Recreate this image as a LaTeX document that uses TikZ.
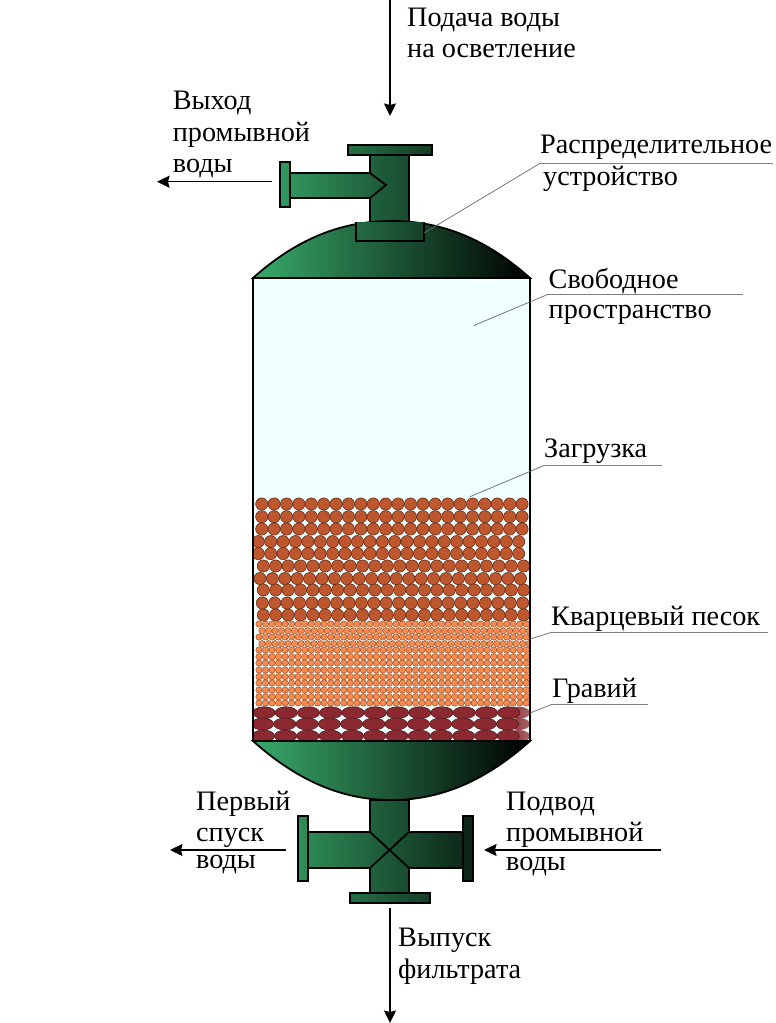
\documentclass[tikz,border=0pt]{standalone}
\usepackage{fontspec}
\setmainfont{Liberation Serif}
\usetikzlibrary{arrows.meta}
\definecolor{gg}{RGB}{56,170,106}
\definecolor{liquid}{RGB}{240,255,255}
\definecolor{rubble}{RGB}{190,86,46}
\definecolor{sandc}{RGB}{250,138,78}
\definecolor{gravelc}{RGB}{140,40,48}
\tikzset{
  part/.style={draw=black,line width=1.8pt,line join=miter},
  lab/.style={anchor=base west,inner sep=0pt,font=\fontsize{28.2}{32}\selectfont,text=black},
  flow/.style={draw=black,line width=1.4pt,-{Stealth[length=12.5pt,width=12pt,inset=1.5pt]}},
  leader/.style={draw=black!60,line width=0.7pt},
  shelf/.style={draw=black!50,line width=0.8pt},
  rub/.style={fill=rubble,draw=black!50!rubble,line width=0.55pt},
  san/.style={fill=sandc,draw=black!40!sandc,line width=0.5pt},
  grv/.style={fill=gravelc,draw=black!45!gravelc,line width=0.5pt}
}
\begin{document}
\begin{tikzpicture}[x=1pt,y=-1pt]
\useasboundingbox (0,0) rectangle (776,1023);
% vessel interior
\fill[liquid] (253,278) rectangle (530,741);
% load particles
\begin{scope}
\clip (253,278) rectangle (530,741);
\foreach \yy/\xo in {504/261.7,516.7/261.7,529/261.7,541.6/258.3,553.6/258.3,566/263.3,578.6/260,590/263.3,603/262.3,615/263.3}{
  \foreach \k in {0,...,21}{
    \pgfmathsetmacro{\xx}{\xo+12.4*\k}
    \pgfmathparse{\xx<524.5?1:0}
    \ifnum\pgfmathresult=1 \draw[rub] (\xx,\yy) circle (6.1pt);\fi
  }
}
\foreach \yy/\xo in {624/259,630.7/262,637/259,643.7/262,650/259,656.7/259,663/259,670/259,676.7/259,683/259,690/259,696.7/259,703/259}{
  \foreach \k in {0,...,41}{
    \pgfmathsetmacro{\xx}{\xo+6.52*\k}
    \draw[san] (\xx,\yy) circle (3.2pt);
  }
}
\foreach \yy/\xo in {712.7/264,724/262.6,736/263.4}{
  \shade[left color=gravelc,right color=gravelc!70!liquid] (519,\yy) ellipse (11pt and 6pt);
  \foreach \k in {0,...,11}{
    \pgfmathsetmacro{\xx}{\xo+22.25*\k}
    \pgfmathparse{\xx<512?1:0}
    \ifnum\pgfmathresult=1 \draw[grv] (\xx,\yy) ellipse (11.2pt and 6pt);\fi
  }
}
\end{scope}
\draw[part,line width=2.2pt] (253,278) rectangle (530,741);
% top fittings
\path[part,left color=gg!58!black,right color=gg!44!black] (370,155) rectangle (409,225);
\path[part,left color=gg!66!black,right color=gg!35!black] (348,145) rectangle (432,155);
\path[part,left color=gg!87!black,right color=gg!52!black] (290,173) -- (370,173) -- (386,185) -- (370,198) -- (290,198) -- cycle;
\path[part,left color=gg!90!black,right color=gg!87!black] (280,162) rectangle (290,207);
% domes
\path[part,left color=gg,right color=black] (253,278) .. controls (300,236) and (345,221) .. (391.5,221) .. controls (438,221) and (483,236) .. (530,278) -- cycle;
\path[part,left color=gg,right color=black] (253,741) .. controls (300,783) and (345,800) .. (391.5,800) .. controls (438,800) and (483,783) .. (530,741) -- cycle;
\draw[part,left color=gg!63!black,right color=gg!38!black] (356,222) -- (356,241) -- (424,241) -- (424,222);
% bottom cross
\path[part,left color=gg!80!black,right color=gg!24!black] (370,800) -- (409,800) -- (409,832) -- (463,832) -- (463,868) -- (409,868) -- (409,893) -- (370,893) -- (370,868) -- (308,868) -- (308,832) -- (370,832) -- cycle;
\draw[part] (370,832) -- (409,868) (370,868) -- (409,832);
\path[part,left color=gg!84!black,right color=gg!80!black] (298,816) rectangle (308,881);
\path[part,left color=gg!24!black,right color=gg!21!black] (463,816) rectangle (473,881);
\path[part,left color=gg!65!black,right color=gg!36!black] (350,893) rectangle (430,903);
% labels
\node[lab] (feedA) at (407,26) {Подача воды};
\node[lab] (feedB) at (407,57) {на осветление};
\node[lab] (washA) at (172.7,109.5) {Выход};
\node[lab] (washB) at (172.7,141) {промывной};
\node[lab] (washC) at (172.7,172.7) {воды};
\node[lab] (distA) at (540,153) {Распределительное};
\node[lab] (distB) at (543,185) {устройство};
\node[lab] (freeA) at (548.5,288.3) {Свободное};
\node[lab] (freeB) at (548.5,318.3) {пространство};
\node[lab] (load) at (544,457.5) {Загрузка};
\node[lab] (sand) at (551,625) {Кварцевый песок};
\node[lab] (grav) at (552,697.7) {Гравий};
\node[lab] (firstA) at (196,810) {Первый};
\node[lab] (firstB) at (196,841) {спуск};
\node[lab] (firstC) at (196,868) {воды};
\node[lab] (inA) at (506,810) {Подвод};
\node[lab] (inB) at (506,841) {промывной};
\node[lab] (inC) at (506,870) {воды};
\node[lab] (outA) at (398,946) {Выпуск};
\node[lab] (outB) at (398,978) {фильтрата};
% flow arrows
\coordinate (a1s) at (390,0); \coordinate (a1e) at (390,116);
\coordinate (a2s) at (272,181.7); \coordinate (a2e) at (157,181.7);
\coordinate (a3s) at (286,850); \coordinate (a3e) at (170,850);
\coordinate (a4s) at (661,850); \coordinate (a4e) at (484,850);
\coordinate (a5s) at (390,908); \coordinate (a5e) at (390,1023);
\draw[flow] (a1s) -- (a1e);
\draw[flow] (a2s) -- (a2e);
\draw[flow] (a3s) -- (a3e);
\draw[flow] (a4s) -- (a4e);
\draw[flow] (a5s) -- (a5e);
% leaders
\coordinate (l1a) at (424,233); \coordinate (l1b) at (540,163.3); \coordinate (l1c) at (773,163.3);
\coordinate (l2a) at (474,325.5); \coordinate (l2b) at (548,294.3); \coordinate (l2c) at (743,294.3);
\coordinate (l3a) at (470,496.7); \coordinate (l3b) at (544,465.5); \coordinate (l3c) at (662,465.5);
\coordinate (l4a) at (530,639); \coordinate (l4b) at (551.7,632.3); \coordinate (l4c) at (768,632.3);
\coordinate (l5a) at (530,713); \coordinate (l5b) at (552,704.3); \coordinate (l5c) at (647.7,704.3);
\draw[leader] (l1a) -- (l1b); \draw[shelf] (l1b) -- (l1c);
\draw[leader] (l2a) -- (l2b); \draw[shelf] (l2b) -- (l2c);
\draw[leader] (l3a) -- (l3b); \draw[shelf] (l3b) -- (l3c);
\draw[leader] (l4a) -- (l4b); \draw[shelf] (l4b) -- (l4c);
\draw[leader] (l5a) -- (l5b); \draw[shelf] (l5b) -- (l5c);
\end{tikzpicture}
\end{document}
